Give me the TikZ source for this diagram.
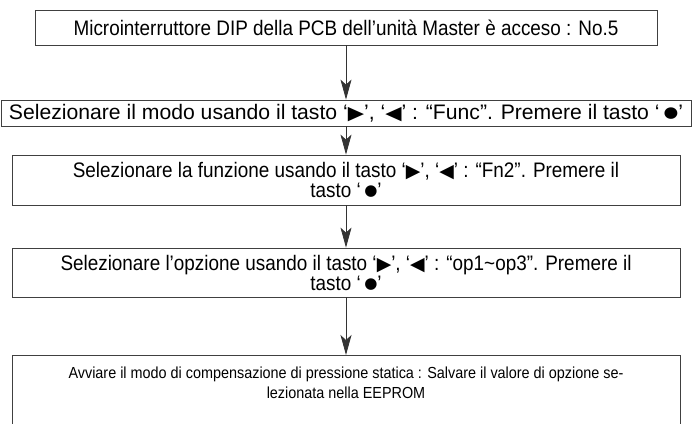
\documentclass[tikz,border=0pt]{standalone}
\usepackage{fontspec}
\setmainfont[FakeStretch=0.9]{Liberation Sans}
\newfontfamily\symb{DejaVu Sans}
\usetikzlibrary{arrows.meta,positioning}
\newcommand{\keyR}{‘{\symb\scalebox{0.9}{▶}}’}
\newcommand{\keyL}{‘{\symb\scalebox{0.9}{◀}}’}
\newcommand{\keyOK}{‘\,{\symb\raisebox{1.8pt}{\scalebox{0.72}{●}}}’}
\tikzset{
  stepbox/.style ={draw=black!75,line width=0.8pt,align=center,inner sep=0pt,font=\fontsize{21}{20}\selectfont},
  smallbox/.style={stepbox,font=\fontsize{16}{20}\selectfont},
  flow/.style    ={draw=black!80,line width=0.8pt,-{Stealth[length=20pt,width=11pt,inset=5pt]}},
}
\begin{document}
\begin{tikzpicture}[x=1pt,y=-1pt]
  \useasboundingbox (0,0) rectangle (692,423);
  \clip (0,0) rectangle (692,423);
  \node[stepbox,minimum width=622pt,minimum height=35pt](s1) at (346,27.5){Microinterruttore DIP della PCB dell’unità Master è acceso : No.5};
  \node[stepbox,minimum width=690pt,minimum height=26pt](s2) at (346,113){\scalebox{1.12}[1]{Selezionare il modo usando il tasto \keyR, \keyL\ : “Func”. Premere il tasto \keyOK}};
  \node[stepbox,minimum width=668pt,minimum height=50pt](s3) at (346,180){Selezionare la funzione usando il tasto \keyR, \keyL\ : “Fn2”. Premere il\\tasto \keyOK};
  \node[stepbox,minimum width=668pt,minimum height=49pt](s4) at (346,272.5){Selezionare l’opzione usando il tasto \keyR, \keyL\ : “op1\textasciitilde op3”. Premere il\\tasto \keyOK};
  \node[smallbox,anchor=north,minimum width=668pt,inner ysep=11pt,text depth=60pt](s5) at (346,355){Avviare il modo di compensazione di pressione statica : Salvare il valore di opzione se-\\lezionata nella EEPROM};
  \foreach \a/\b in {s1/s2,s2/s3,s3/s4,s4/s5}{\draw[flow](\a)--(\b);}
\end{tikzpicture}
\end{document}
